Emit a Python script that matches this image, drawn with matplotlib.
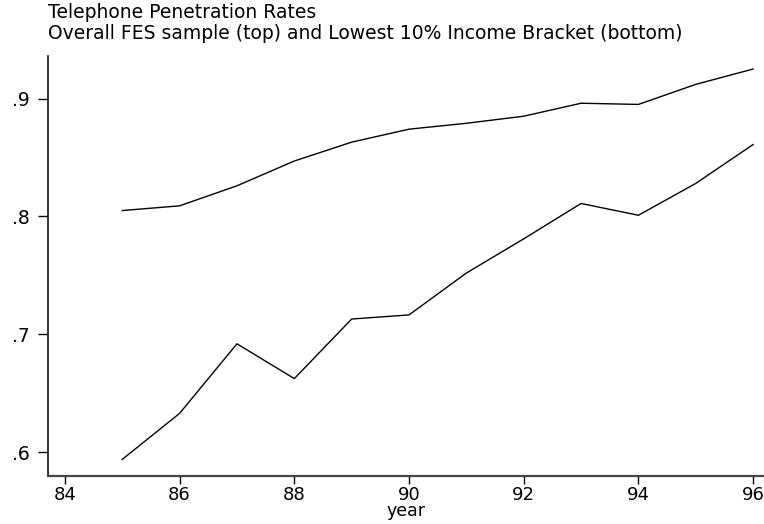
import numpy as np
import matplotlib
matplotlib.use("Agg")
import matplotlib.pyplot as plt

plt.rcParams["font.family"] = ["DejaVu Sans"]

# telephone penetration by year
years = [85, 86, 87, 88, 89, 90, 91, 92, 93, 94, 95, 96]
overall = [0.805, 0.809, 0.826, 0.847, 0.863, 0.874, 0.879, 0.885, 0.896, 0.895, 0.912, 0.925]
lowest10 = [0.594, 0.633, 0.692, 0.6625, 0.713, 0.7165, 0.752, 0.781, 0.811, 0.801, 0.828, 0.861]

xticks = [84, 86, 88, 90, 92, 94, 96]
yticks = [0.6, 0.7, 0.8, 0.9]
ytick_labels = [".6", ".7", ".8", ".9"]

title_lines = ["Telephone Penetration Rates",
               "Overall FES sample (top) and Lowest 10% Income Bracket (bottom)"]

fig = plt.figure(figsize=(7.64, 5.24), dpi=100)
ax = fig.add_axes([0.0632, 0.0916, 0.9368, 0.8014])

ax.plot(years, overall, color="black", lw=1.0)
ax.plot(years, lowest10, color="black", lw=1.0)

ax.set_xlim(83.71, 96.19)
ax.set_ylim(0.5799, 0.936)
ax.set_xticks(xticks)
ax.set_xticklabels([str(t) for t in xticks])
ax.set_yticks(yticks)
ax.set_yticklabels(ytick_labels)

for s in ["top", "right"]:
    ax.spines[s].set_visible(False)
ax.spines["left"].set_linewidth(1.3)
ax.spines["bottom"].set_linewidth(1.6)
ax.spines["left"].set_color("#222222")
ax.spines["bottom"].set_color("#444444")

ax.tick_params(direction="out", length=7, width=1, colors="black", labelsize=13)
ax.tick_params(axis="x", length=6, pad=1)
ax.tick_params(axis="y", pad=6, labelsize=13.5)
ax.set_xlabel("year", fontsize=12.5, labelpad=-1)

# two-line heading, left aligned with the y axis
fig.text(0.0632, 0.966, title_lines[0], fontsize=13.5, ha="left", va="baseline")
fig.text(0.0632, 0.926, title_lines[1], fontsize=13.5, ha="left", va="baseline")

fig.savefig("out.png", dpi=100)
